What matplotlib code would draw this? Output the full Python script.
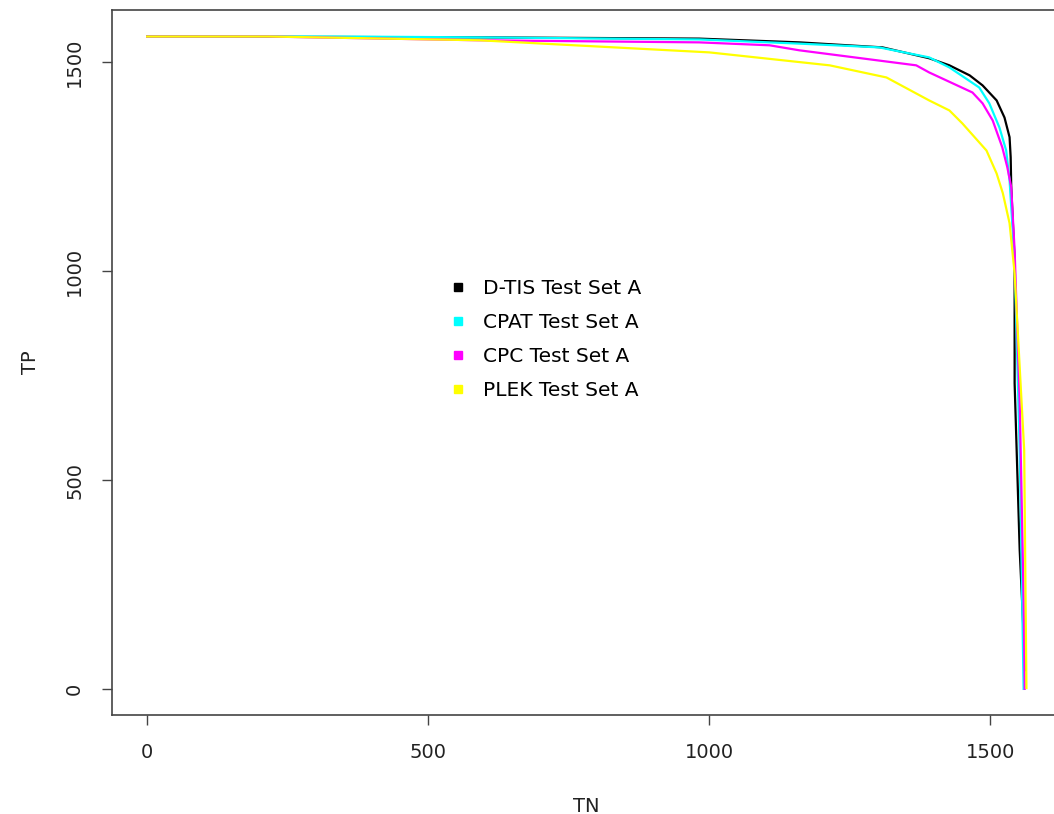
import matplotlib
matplotlib.use("Agg")
import matplotlib.pyplot as plt
from matplotlib.lines import Line2D

plt.rcParams["font.family"] = ["DejaVu Sans"]

# TN / TP trade-off curves for each tool on test set A
dtis_tn = [0, 591, 982, 1160, 1308, 1391, 1427, 1463, 1486, 1511, 1525, 1534, 1536, 1537,
           1543, 1543, 1552, 1562]
dtis_tp = [1562, 1560, 1557, 1548, 1536, 1510, 1493, 1469, 1445, 1409, 1368, 1321, 1273, 1201,
           1026, 732, 333, 45]

cpat_tn = [0, 336, 591, 982, 1160, 1302, 1391, 1427, 1480, 1498, 1516, 1528, 1534, 1543,
           1552, 1559]
cpat_tp = [1562, 1562, 1560, 1555, 1545, 1536, 1512, 1488, 1440, 1402, 1344, 1289, 1218, 1026,
           572, 0]

cpc_tn = [0, 213, 591, 982, 1107, 1160, 1368, 1391, 1468, 1486, 1504, 1521, 1530, 1537, 1543,
          1552, 1559, 1561]
cpc_tp = [1562, 1562, 1553, 1548, 1541, 1529, 1493, 1476, 1428, 1402, 1361, 1297, 1249, 1201,
          1050, 691, 213, 0]

plek_tn = [0, 217, 591, 1000, 1214, 1315, 1391, 1427, 1450, 1493, 1511, 1522, 1534, 1543,
           1560, 1564]
plek_tp = [1562, 1562, 1553, 1524, 1493, 1464, 1409, 1385, 1354, 1289, 1234, 1187, 1115, 995,
           572, 2]

labels = ["D-TIS Test Set A", "CPAT Test Set A", "CPC Test Set A", "PLEK Test Set A"]
colors = ["black", "cyan", "magenta", "yellow"]

W, H = 1054, 814
fig = plt.figure(figsize=(W / 100, H / 100), dpi=100)
# plot region like R's default, running a little past the right edge
left, right, top, bottom = 112, 1061, 10, 715
ax = fig.add_axes([left / W, 1 - bottom / H, (right - left) / W, (bottom - top) / H])

series = [(dtis_tn, dtis_tp), (cpat_tn, cpat_tp), (cpc_tn, cpc_tp), (plek_tn, plek_tp)]
for (tn, tp), c in zip(series, colors):
    ax.plot(tn, tp, color=c, lw=1.6)

ax.set_xlim(-62.5, 1625.5)
ax.set_ylim(-62.5, 1625.5)
ax.set_xticks([0, 500, 1000, 1500])
ax.set_yticks([0, 500, 1000, 1500])
ax.tick_params(axis="both", direction="out", length=7, width=1, color="#444444",
               labelsize=14, pad=13, labelcolor="#222222")
ax.tick_params(axis="y", pad=13)
for lab in ax.get_yticklabels():
    lab.set_rotation(90)
    lab.set_va("center")
for sp in ax.spines.values():
    sp.set_color("#444444")
    sp.set_linewidth(1.2)

ax.set_xlabel("TN", fontsize=14, color="#222222", labelpad=25)
ax.set_ylabel("TP", fontsize=14, color="#222222", labelpad=18)

handles = [Line2D([], [], ls="none", marker="s", ms=6, color=c) for c in colors]
ax.legend(handles, labels, loc="upper left", frameon=False, fontsize=14.5,
          bbox_to_anchor=((448 - left) / (right - left), (bottom - 279) / (bottom - top)),
          borderpad=0, borderaxespad=0, handlelength=1.0, handletextpad=0.75,
          labelspacing=0.75)

fig.savefig("out.png", dpi=100)
